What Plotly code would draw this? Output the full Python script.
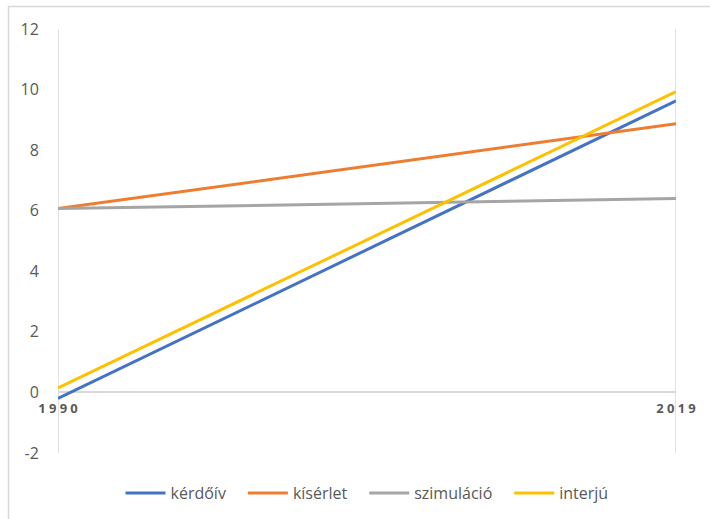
import plotly.graph_objects as go

years = [1990, 2019]
year_labels = ["1\u20059\u20059\u20050", "2\u20050\u20051\u20059"]
series_names = ["kérdőív", "kísérlet", "szimuláció", "interjú"]
kerdoiv = [-0.2, 9.63]
kiserlet = [6.07, 8.87]
szimulacio = [6.07, 6.4]
interju = [0.15, 9.93]
colors = ["#4472C4", "#ED7D31", "#A5A5A5", "#FFC000"]
y_ticks = [-2, 0, 2, 4, 6, 8, 10, 12]
y_tick_labels = ["-2", "0", "2", "4", "6", "8", "10", "12"]

W, H = 710, 519
L, R, T, B = 58, 34, 29, 66
plot_w = W - L - R
plot_h = H - T - B

fig = go.Figure()
for name, vals, col in zip(series_names, [kerdoiv, kiserlet, szimulacio, interju], colors):
    fig.add_trace(go.Scatter(x=years, y=vals, mode="lines",
                             name=name + "\u2002\u2005",
                             line=dict(color=col, width=3)))

shapes = []
# vertical category gridlines at the two categories
for yr in years:
    shapes.append(dict(type="line", xref="x", yref="paper", x0=yr, x1=yr, y0=0, y1=1,
                       layer="below", line=dict(color="#D9D9D9", width=1.5)))
# chart border (top and left visible; right/bottom fall outside the window)
shapes.append(dict(type="rect", xref="paper", yref="paper",
                   x0=(8.5 - L) / plot_w, x1=(W + 20 - L) / plot_w,
                   y0=(-B - 20) / plot_h, y1=(H - B - 6.5) / plot_h,
                   layer="below", fillcolor="rgba(0,0,0,0)",
                   line=dict(color="#D9D9D9", width=1.5)))

fig.update_layout(
    width=W, height=H,
    margin=dict(l=L, r=R, t=T, b=B, pad=0, autoexpand=False),
    paper_bgcolor="white", plot_bgcolor="white",
    font=dict(family="Open Sans", size=16, color="#595959"),
    showlegend=True,
    legend=dict(orientation="h", x=0.5 + 6 / plot_w, xanchor="center", y=-40 / plot_h, yanchor="middle",
                font=dict(size=16, color="#595959"), itemwidth=40, tracegroupgap=0),
    xaxis=dict(range=[years[0], years[1]], tickvals=years, ticktext=year_labels,
               showgrid=False, zeroline=False, showline=False, automargin=False,
               anchor="free", position=2 / 14, ticks="outside", ticklen=4, tickcolor="rgba(0,0,0,0)",
               tickfont=dict(family="Open Sans", size=13, color="#595959", weight="bold")),
    yaxis=dict(range=[-2, 12], tickvals=y_ticks, ticktext=y_tick_labels, showgrid=False,
               zeroline=True, automargin=False,
               zerolinecolor="#D9D9D9", zerolinewidth=1.5, showline=False,
               ticks="outside", ticklen=15, tickcolor="rgba(0,0,0,0)",
               tickfont=dict(size=16, color="#595959")),
    shapes=shapes,
)

fig.write_html("out.html", config={"displayModeBar": False})

# remove the default page margin so the figure sits at the window origin
with open("out.html", encoding="utf-8") as f:
    html = f.read()
html = html.replace("<body>", '<body style="margin:0;padding:0;overflow:hidden;">', 1)
with open("out.html", "w", encoding="utf-8") as f:
    f.write(html)
